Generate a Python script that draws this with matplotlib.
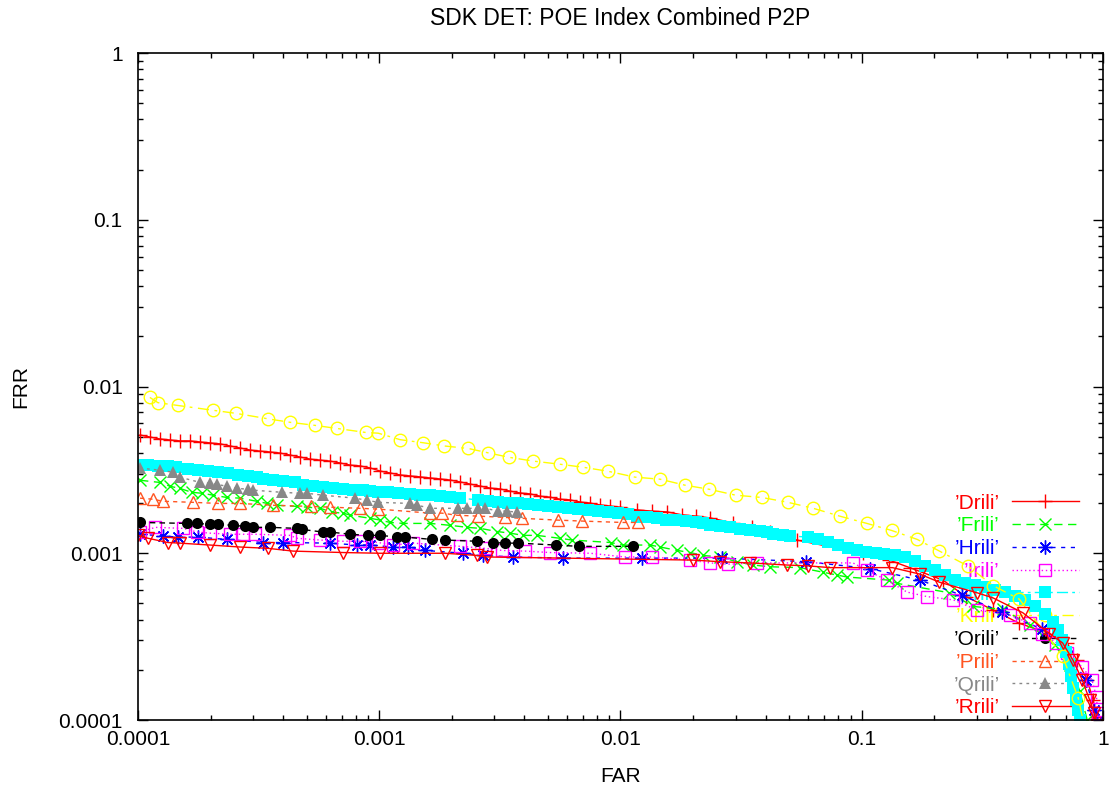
import matplotlib
matplotlib.use('Agg')
import matplotlib.pyplot as plt
from matplotlib.ticker import LogLocator, NullFormatter

plt.rcParams['font.family'] = ['Liberation Sans', 'DejaVu Sans']

# DET curves: FAR, FRR per matcher
drili_far = [1.02e-4, 1.12e-4, 1.23e-4, 1.36e-4, 1.49e-4, 1.64e-4, 1.81e-4, 1.99e-4,
             2.19e-4, 2.41e-4, 2.65e-4, 2.91e-4, 3.20e-4, 3.53e-4, 3.88e-4, 4.27e-4,
             4.69e-4, 5.17e-4, 5.68e-4, 6.25e-4, 6.88e-4, 7.57e-4, 8.33e-4, 9.16e-4,
             1.01e-3, 1.11e-3, 1.22e-3, 1.34e-3, 1.48e-3, 1.62e-3, 1.79e-3, 1.96e-3,
             2.16e-3, 2.38e-3, 2.62e-3, 2.88e-3, 3.17e-3, 3.48e-3, 3.83e-3, 4.22e-3,
             4.64e-3, 5.10e-3, 5.61e-3, 6.17e-3, 6.80e-3, 7.48e-3, 8.23e-3, 9.05e-3,
             9.95e-3, 1.17e-2, 1.35e-2, 1.56e-2, 1.80e-2, 2.06e-2, 2.35e-2, 2.93e-2,
             3.51e-2, 4.16e-2, 5.38e-2, 0.101, 0.13, 0.158, 0.217, 0.27, 0.35, 0.45,
             0.60, 0.71, 0.78, 0.86, 0.91, 0.94]
drili_frr = [5.12e-3, 4.98e-3, 4.85e-3, 4.78e-3, 4.72e-3, 4.72e-3, 4.65e-3, 4.59e-3,
             4.53e-3, 4.40e-3, 4.28e-3, 4.16e-3, 4.10e-3, 4.05e-3, 3.99e-3, 3.88e-3,
             3.78e-3, 3.67e-3, 3.62e-3, 3.57e-3, 3.48e-3, 3.38e-3, 3.34e-3, 3.25e-3,
             3.11e-3, 3.03e-3, 2.95e-3, 2.91e-3, 2.87e-3, 2.83e-3, 2.79e-3, 2.75e-3,
             2.68e-3, 2.60e-3, 2.53e-3, 2.46e-3, 2.43e-3, 2.36e-3, 2.30e-3, 2.27e-3,
             2.20e-3, 2.17e-3, 2.11e-3, 2.09e-3, 2.03e-3, 2.00e-3, 1.95e-3, 1.92e-3,
             1.89e-3, 1.82e-3, 1.79e-3, 1.77e-3, 1.70e-3, 1.67e-3, 1.63e-3, 1.52e-3,
             1.44e-3, 1.34e-3, 1.20e-3, 1.0e-3, 9.1e-4, 8.2e-4, 6.9e-4, 5.5e-4,
             4.57e-4, 3.8e-4, 3.3e-4, 2.9e-4, 2.29e-4, 1.74e-4, 1.32e-4, 1.04e-4]

frili_far = [1.02e-4, 1.23e-4, 1.36e-4, 1.49e-4, 1.67e-4, 1.84e-4, 2.05e-4, 2.34e-4,
             2.65e-4, 3.11e-4, 3.43e-4, 3.77e-4, 4.56e-4, 5.0e-4, 5.7e-4, 6.4e-4,
             7.1e-4, 7.6e-4, 9.2e-4, 1.01e-3, 1.11e-3, 1.26e-3, 1.63e-3, 1.97e-3,
             2.32e-3, 2.62e-3, 3.08e-3, 3.49e-3, 3.95e-3, 4.5e-3, 5.6e-3, 6.3e-3,
             9.1e-3, 1.02e-2, 1.33e-2, 1.46e-2, 1.72e-2, 1.94e-2, 2.2e-2, 2.58e-2,
             3.04e-2, 3.54e-2, 4.16e-2, 5.55e-2, 6.9e-2, 7.9e-2, 8.7e-2, 0.13, 0.14,
             0.23, 0.29, 0.385, 0.50, 0.63, 0.73, 0.80, 0.86]
frili_frr = [2.74e-3, 2.66e-3, 2.52e-3, 2.45e-3, 2.32e-3, 2.29e-3, 2.23e-3, 2.16e-3,
             2.14e-3, 2.05e-3, 1.99e-3, 1.94e-3, 1.91e-3, 1.89e-3, 1.86e-3, 1.76e-3,
             1.74e-3, 1.69e-3, 1.62e-3, 1.58e-3, 1.53e-3, 1.51e-3, 1.51e-3, 1.47e-3,
             1.43e-3, 1.41e-3, 1.35e-3, 1.32e-3, 1.28e-3, 1.28e-3, 1.23e-3, 1.2e-3,
             1.16e-3, 1.12e-3, 1.12e-3, 1.09e-3, 1.04e-3, 1.01e-3, 9.7e-4, 9.5e-4,
             8.9e-4, 8.5e-4, 8.3e-4, 8.2e-4, 7.7e-4, 7.4e-4, 7.2e-4, 6.9e-4, 6.6e-4,
             5.8e-4, 4.8e-4, 4.6e-4, 3.7e-4, 2.8e-4, 2.14e-4, 1.5e-4, 1.0e-4]

hrili_far = [1.02e-4, 1.27e-4, 1.46e-4, 1.77e-4, 2.34e-4, 3.3e-4, 4.0e-4, 6.25e-4,
             8.1e-4, 9.2e-4, 1.14e-3, 1.32e-3, 1.55e-3, 2.23e-3, 2.7e-3, 3.6e-3,
             5.8e-3, 1.23e-2, 2.63e-2, 5.9e-2, 0.108, 0.174, 0.26, 0.38, 0.56, 0.70,
             0.85, 0.92, 0.94]
hrili_frr = [1.3e-3, 1.27e-3, 1.25e-3, 1.25e-3, 1.21e-3, 1.16e-3, 1.16e-3, 1.15e-3,
             1.12e-3, 1.12e-3, 1.09e-3, 1.09e-3, 1.04e-3, 1.0e-3, 9.7e-4, 9.5e-4,
             9.35e-4, 9.35e-4, 9.35e-4, 8.9e-4, 8.1e-4, 6.9e-4, 5.6e-4, 4.45e-4,
             3.5e-4, 2.6e-4, 1.74e-4, 1.15e-4, 9.7e-5]

irili_far = [1.02e-4, 1.18e-4, 1.54e-4, 1.76e-4, 1.99e-4, 2.41e-4, 2.72e-4, 3.05e-4,
             4.27e-4, 4.56e-4, 5.7e-4, 7.1e-4, 8.3e-4, 9.9e-4, 1.14e-3, 1.38e-3,
             2.17e-3, 2.75e-3, 3.23e-3, 4.03e-3, 5.1e-3, 7.5e-3, 1.04e-2, 1.35e-2,
             1.94e-2, 2.35e-2, 2.79e-2, 3.68e-2, 9.2e-2, 0.105, 0.127, 0.154, 0.186,
             0.24, 0.30, 0.41, 0.50, 0.56, 0.64, 0.71, 0.82, 0.90, 0.94, 0.95, 0.96]
irili_frr = [1.34e-3, 1.43e-3, 1.41e-3, 1.34e-3, 1.32e-3, 1.3e-3, 1.3e-3, 1.3e-3,
             1.28e-3, 1.23e-3, 1.2e-3, 1.18e-3, 1.18e-3, 1.16e-3, 1.12e-3, 1.15e-3,
             1.1e-3, 1.07e-3, 1.04e-3, 1.03e-3, 1.01e-3, 1.0e-3, 9.5e-4, 9.5e-4,
             9.1e-4, 8.75e-4, 8.6e-4, 8.75e-4, 8.75e-4, 7.9e-4, 6.9e-4, 5.85e-4,
             5.5e-4, 5.25e-4, 4.57e-4, 4.26e-4, 3.8e-4, 3.3e-4, 2.9e-4, 2.52e-4,
             2.08e-4, 1.74e-4, 1.37e-4, 1.1e-4, 9.7e-5]

jrili_far = [1.0e-4, 1.10e-4, 1.21e-4, 1.33e-4, 1.44e-4, 1.61e-4, 1.77e-4, 1.95e-4,
             2.15e-4, 2.36e-4, 2.60e-4, 2.86e-4, 3.11e-4, 3.30e-4, 3.63e-4, 3.99e-4,
             4.48e-4, 4.83e-4, 5.32e-4, 5.85e-4, 6.43e-4, 7.08e-4, 7.79e-4, 8.57e-4,
             9.17e-4, 9.88e-4, 1.09e-3, 1.20e-3, 1.34e-3, 1.48e-3, 1.62e-3, 1.79e-3,
             1.96e-3, 2.16e-3, 2.57e-3, 2.82e-3, 3.10e-3, 3.42e-3, 3.76e-3, 4.14e-3,
             4.55e-3, 5.01e-3, 5.51e-3, 6.06e-3, 6.67e-3, 7.33e-3, 8.07e-3, 8.88e-3,
             9.76e-3, 1.07e-2, 1.17e-2, 1.29e-2, 1.42e-2, 1.54e-2, 1.70e-2, 1.87e-2,
             2.06e-2, 2.20e-2, 2.35e-2, 2.59e-2, 2.84e-2, 3.13e-2, 3.44e-2, 3.79e-2,
             4.05e-2, 4.29e-2, 4.72e-2, 5.04e-2, 5.99e-2, 6.59e-2, 7.25e-2, 7.98e-2,
             8.78e-2, 9.56e-2, 0.104, 0.115, 0.124, 0.137, 0.151, 0.166, 0.183, 0.201,
             0.221, 0.243, 0.268, 0.295, 0.324, 0.357, 0.392, 0.431, 0.475, 0.523,
             0.575, 0.621, 0.652, 0.677, 0.703, 0.723, 0.737, 0.752, 0.774, 0.789, 0.805]
jrili_frr = [3.39e-3, 3.39e-3, 3.35e-3, 3.35e-3, 3.29e-3, 3.20e-3, 3.16e-3, 3.11e-3,
             3.07e-3, 3.03e-3, 2.95e-3, 2.91e-3, 2.87e-3, 2.79e-3, 2.76e-3, 2.72e-3,
             2.68e-3, 2.57e-3, 2.53e-3, 2.50e-3, 2.46e-3, 2.43e-3, 2.39e-3, 2.39e-3,
             2.36e-3, 2.33e-3, 2.33e-3, 2.30e-3, 2.27e-3, 2.24e-3, 2.24e-3, 2.21e-3,
             2.17e-3, 2.14e-3, 2.09e-3, 2.06e-3, 2.03e-3, 2.00e-3, 2.00e-3, 1.97e-3,
             1.95e-3, 1.92e-3, 1.89e-3, 1.87e-3, 1.84e-3, 1.82e-3, 1.79e-3, 1.77e-3,
             1.74e-3, 1.72e-3, 1.65e-3, 1.65e-3, 1.63e-3, 1.58e-3, 1.58e-3, 1.56e-3,
             1.54e-3, 1.52e-3, 1.48e-3, 1.46e-3, 1.44e-3, 1.40e-3, 1.38e-3, 1.36e-3,
             1.34e-3, 1.30e-3, 1.29e-3, 1.27e-3, 1.25e-3, 1.22e-3, 1.17e-3, 1.12e-3,
             1.08e-3, 1.05e-3, 1.02e-3, 1.0e-3, 9.9e-4, 9.76e-4, 9.49e-4, 8.99e-4,
             8.38e-4, 7.94e-4, 7.41e-4, 6.92e-4, 6.63e-4, 6.46e-4, 6.28e-4, 6.03e-4,
             5.85e-4, 5.53e-4, 5.25e-4, 4.83e-4, 4.32e-4, 3.87e-4, 3.47e-4, 3.02e-4,
             2.56e-4, 2.17e-4, 1.84e-4, 1.56e-4, 1.32e-4, 1.15e-4, 1.0e-4]

krili_far = [1.12e-4, 1.21e-4, 1.46e-4, 2.05e-4, 2.55e-4, 3.46e-4, 4.27e-4, 5.4e-4,
             6.7e-4, 8.8e-4, 9.9e-4, 1.22e-3, 1.52e-3, 1.86e-3, 2.34e-3, 2.83e-3,
             3.46e-3, 4.35e-3, 5.6e-3, 7.0e-3, 8.9e-3, 1.15e-2, 1.46e-2, 1.85e-2,
             2.33e-2, 3.0e-2, 3.86e-2, 4.95e-2, 6.3e-2, 8.1e-2, 0.105, 0.133, 0.17,
             0.21, 0.275, 0.35, 0.45, 0.68, 0.79, 0.84]
krili_frr = [8.6e-3, 8.0e-3, 7.7e-3, 7.2e-3, 6.9e-3, 6.4e-3, 6.1e-3, 5.85e-3,
             5.6e-3, 5.3e-3, 5.25e-3, 4.8e-3, 4.6e-3, 4.4e-3, 4.25e-3, 4.0e-3,
             3.76e-3, 3.57e-3, 3.42e-3, 3.28e-3, 3.1e-3, 2.86e-3, 2.78e-3, 2.56e-3,
             2.42e-3, 2.23e-3, 2.16e-3, 2.02e-3, 1.86e-3, 1.67e-3, 1.51e-3, 1.37e-3,
             1.21e-3, 1.03e-3, 8.4e-4, 6.4e-4, 5.3e-4, 2.42e-4, 1.35e-4, 9.0e-5]

orili_far = [1.02e-4, 1.6e-4, 1.76e-4, 1.99e-4, 2.15e-4, 2.48e-4, 2.78e-4, 3.0e-4,
             3.53e-4, 4.56e-4, 4.78e-4, 5.85e-4, 6.25e-4, 7.6e-4, 8.96e-4, 1.01e-3,
             1.19e-3, 1.28e-3, 1.66e-3, 1.88e-3, 2.55e-3, 2.97e-3, 3.33e-3, 3.77e-3,
             5.4e-3, 6.7e-3, 1.13e-2]
orili_frr = [1.53e-3, 1.51e-3, 1.51e-3, 1.49e-3, 1.49e-3, 1.47e-3, 1.45e-3, 1.43e-3,
             1.43e-3, 1.41e-3, 1.39e-3, 1.34e-3, 1.34e-3, 1.3e-3, 1.28e-3, 1.28e-3,
             1.25e-3, 1.25e-3, 1.21e-3, 1.2e-3, 1.18e-3, 1.16e-3, 1.15e-3, 1.15e-3,
             1.12e-3, 1.1e-3, 1.1e-3]

prili_far = [1.02e-4, 1.15e-4, 1.27e-4, 1.69e-4, 2.15e-4, 2.65e-4, 3.63e-4, 5.2e-4,
             6.25e-4, 8.3e-4, 9.9e-4, 1.63e-3, 1.82e-3, 2.1e-3, 2.57e-3, 3.33e-3,
             3.91e-3, 5.5e-3, 6.9e-3, 1.02e-2, 1.18e-2]
prili_frr = [2.14e-3, 2.11e-3, 2.05e-3, 2.02e-3, 1.99e-3, 1.99e-3, 1.94e-3, 1.91e-3,
             1.89e-3, 1.86e-3, 1.84e-3, 1.74e-3, 1.74e-3, 1.69e-3, 1.67e-3, 1.64e-3,
             1.62e-3, 1.58e-3, 1.56e-3, 1.53e-3, 1.53e-3]

qrili_far = [1.02e-4, 1.23e-4, 1.4e-4, 1.49e-4, 1.81e-4, 1.99e-4, 2.12e-4, 2.34e-4,
             2.57e-4, 2.86e-4, 3.0e-4, 3.95e-4, 4.7e-4, 5.0e-4, 5.85e-4, 7.9e-4,
             8.9e-4, 9.9e-4, 1.34e-3, 1.44e-3, 1.63e-3, 2.12e-3, 2.32e-3, 2.57e-3,
             2.75e-3, 3.11e-3, 3.39e-3, 3.74e-3]
qrili_frr = [3.24e-3, 3.15e-3, 3.06e-3, 2.86e-3, 2.66e-3, 2.63e-3, 2.59e-3, 2.52e-3,
             2.45e-3, 2.42e-3, 2.39e-3, 2.32e-3, 2.29e-3, 2.29e-3, 2.23e-3, 2.14e-3,
             2.08e-3, 2.02e-3, 1.99e-3, 1.94e-3, 1.86e-3, 1.86e-3, 1.86e-3, 1.86e-3,
             1.86e-3, 1.79e-3, 1.79e-3, 1.76e-3]

rrili_far = [1.0e-4, 1.1e-4, 1.33e-4, 1.49e-4, 1.99e-4, 2.65e-4, 3.46e-4, 4.4e-4,
             7.1e-4, 1.01e-3, 1.88e-3, 2.55e-3, 2.8e-3, 2.0e-2, 2.58e-2, 3.44e-2,
             4.9e-2, 6.0e-2, 7.4e-2, 0.134, 0.174, 0.21, 0.30, 0.35, 0.465, 0.60,
             0.68, 0.75, 0.82, 0.88, 0.92, 0.94]
rrili_frr = [1.28e-3, 1.23e-3, 1.16e-3, 1.15e-3, 1.12e-3, 1.09e-3, 1.07e-3, 1.03e-3,
             1.01e-3, 1.0e-3, 1.0e-3, 9.7e-4, 9.5e-4, 9.1e-4, 8.9e-4, 8.75e-4,
             8.5e-4, 8.4e-4, 8.2e-4, 8.2e-4, 7.5e-4, 6.7e-4, 5.8e-4, 5.4e-4, 4.4e-4,
             3.3e-4, 2.9e-4, 2.29e-4, 1.74e-4, 1.32e-4, 1.1e-4, 9.3e-5]

tick_values = [1e-4, 1e-3, 1e-2, 1e-1, 1]
tick_labels = ['0.0001', '0.001', '0.01', '0.1', '1']

fig = plt.figure(figsize=(11.1, 7.97), dpi=100)
ax = fig.add_axes([0.1243, 0.0966, 0.8694, 0.8369])

asterisk = (8, 2, 0)  # gnuplot's "*" point: + and x on top of each other

series = [
    ("’Drili’", drili_far, drili_frr, dict(color='#ff0000', marker='+', ms=10, mew=1.0, ls='-')),
    ("’Frili’", frili_far, frili_frr, dict(color='#00ff00', marker='x', ms=8, mew=1.0, ls=(0, (6, 4)))),
    ("’Hrili’", hrili_far, hrili_frr, dict(color='#0000ff', marker=asterisk, ms=10, mew=1.0, ls=(0, (3, 4)))),
    ("’Irili’", irili_far, irili_frr, dict(color='#ff00ff', marker='s', ms=8, mew=1.0, mfc='none', ls=(0, (1, 2)))),
    ("’Jrili’", jrili_far, jrili_frr, dict(color='#00ffff', marker='s', ms=9, mew=0, ls=(0, (8, 3, 2, 3)))),
    ("’Krili’", krili_far, krili_frr, dict(color='#ffff00', marker='o', ms=9, mew=1.0, mfc='none', ls=(0, (8, 4, 2, 4)))),
    ("’Orili’", orili_far, orili_frr, dict(color='#000000', marker='o', ms=8, mew=0, ls=(0, (4, 3)))),
    ("’Prili’", prili_far, prili_frr, dict(color='#ff5522', marker='^', ms=8, mew=1.0, mfc='none', ls=(0, (3, 3)))),
    ("’Qrili’", qrili_far, qrili_frr, dict(color='#888888', marker='^', ms=8, mew=0, ls=(0, (2, 3)))),
    ("’Rrili’", rrili_far, rrili_frr, dict(color='#ff0000', marker='v', ms=9, mew=1.0, mfc='none', ls='-')),
]

for label, far, frr, style in series:
    ax.plot(far, frr, label=label, lw=1.0, **style)

ax.set_xscale('log')
ax.set_yscale('log')
ax.set_xlim(1e-4, 1)
ax.set_ylim(1e-4, 1)

ax.set_xticks(tick_values, tick_labels)
ax.set_yticks(tick_values, tick_labels)
ax.xaxis.set_minor_locator(LogLocator(base=10, subs=range(2, 10)))
ax.yaxis.set_minor_locator(LogLocator(base=10, subs=range(2, 10)))
ax.xaxis.set_minor_formatter(NullFormatter())
ax.yaxis.set_minor_formatter(NullFormatter())
ax.tick_params(which='both', direction='in', top=True, right=True, labelsize=15, width=1)
ax.tick_params(which='major', length=7)
ax.tick_params(which='minor', length=3.5)
ax.tick_params(axis='x', pad=7)
ax.tick_params(axis='y', pad=11)
for side in ax.spines.values():
    side.set_linewidth(1.2)

ax.set_title('SDK DET: POE Index Combined P2P', fontsize=16.5, pad=20)
ax.set_xlabel('FAR', fontsize=15, labelpad=13)
ax.set_ylabel('FRR', fontsize=15, labelpad=20)

# key sits under the curves, as in the gnuplot original
leg = ax.legend(loc='lower right', bbox_to_anchor=(0.9834, -0.0087), frameon=False,
                markerfirst=False, numpoints=1, handlelength=3.2, handletextpad=0.6,
                labelspacing=0.18, fontsize=15, labelcolor='linecolor', borderaxespad=0)
leg.set_zorder(1)

fig.savefig('out.png', dpi=100)
